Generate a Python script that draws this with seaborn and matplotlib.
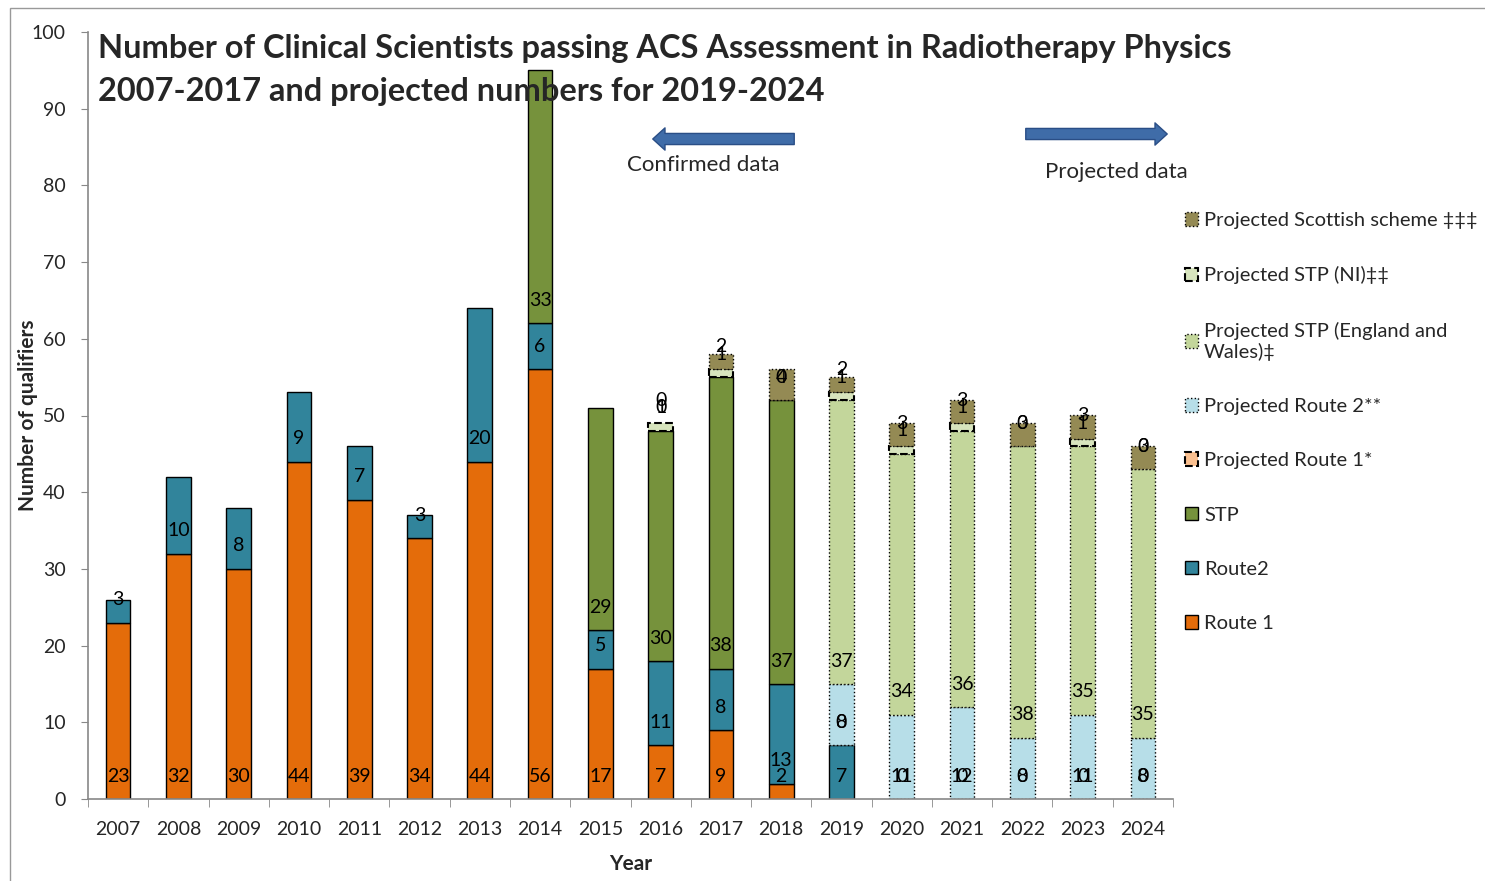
import numpy as np
import matplotlib
matplotlib.use("Agg")
import matplotlib.pyplot as plt
import matplotlib.patches as mpatches
import seaborn as sns

# data (None = no value for that year)
years = [str(y) for y in range(2007, 2025)]
route1 = [23, 32, 30, 44, 39, 34, 44, 56, 17, 7, 9, 2, None, None, None, None, None, None]
route2 = [3, 10, 8, 9, 7, 3, 20, 6, 5, 11, 8, 13, 7, None, None, None, None, None]
stp = [None, None, None, None, None, None, None, 33, 29, 30, 38, 37, None, None, None, None, None, None]
proj_route1 = [None] * 12 + [0, 0, 0, 0, 0, 0]
proj_route2 = [None] * 12 + [8, 11, 12, 8, 11, 8]
proj_stp_ew = [None] * 9 + [0, None, None, 37, 34, 36, 38, 35, 35]
proj_stp_ni = [None] * 9 + [1, 1, 0, 1, 1, 1, 0, 1, 0]
proj_scot = [None] * 9 + [0, 2, 4, 2, 3, 3, 3, 3, 3]

series = [
    ("Route 1", route1, dict(facecolor="#E46C0A", edgecolor="black", linestyle="-", linewidth=1.0)),
    ("Route2", route2, dict(facecolor="#31849B", edgecolor="black", linestyle="-", linewidth=1.0)),
    ("STP", stp, dict(facecolor="#76923C", edgecolor="black", linestyle="-", linewidth=1.0)),
    ("Projected Route 1*", proj_route1, dict(facecolor="#FAC090", edgecolor="black", linestyle="--", linewidth=1.5)),
    ("Projected Route 2**", proj_route2, dict(facecolor="#B7DEE8", edgecolor="black", linestyle=":", linewidth=1.0)),
    ("Projected STP (England and\nWales)\u2021", proj_stp_ew, dict(facecolor="#C3D69B", edgecolor="black", linestyle=":", linewidth=1.0)),
    ("Projected STP (NI)\u2021\u2021", proj_stp_ni, dict(facecolor="#D7E4BD", edgecolor="black", linestyle="--", linewidth=1.5)),
    ("Projected Scottish scheme \u2021\u2021\u2021", proj_scot, dict(facecolor="#948A54", edgecolor="black", linestyle=":", linewidth=1.0)),
]

sns.set_style("white")
plt.rcParams['font.family'] = ['Lato', 'DejaVu Sans']

fig = plt.figure(figsize=(14.85, 8.81), dpi=100)
ax = fig.add_axes([88 / 1485, 1 - 799 / 881, (1173 - 88) / 1485, (799 - 32) / 881])

bottom = np.zeros(len(years))
handles = []
for name, vals, style in series:
    arr = np.array([np.nan if v is None else v for v in vals], dtype=float)
    h = np.nan_to_num(arr)
    n_before = len(ax.patches)
    sns.barplot(x=years, y=h, order=years, width=0.41, errorbar=None, ax=ax,
                color=style["facecolor"], saturation=1, bottom=bottom.copy(), **style)
    for p in ax.patches[n_before:]:
        if p.get_height() == 0:
            p.set_visible(False)
    # value labels at the inside base of each segment
    for i, v in enumerate(arr):
        if not np.isnan(v):
            ax.annotate(f"{int(v)}", (i, bottom[i]), xytext=(0, 16.5), textcoords="offset points",
                        ha="center", va="center", fontsize=14, color="black")
    bottom = bottom + h
    handles.append(mpatches.Patch(label=name, **style))

ax.set_xlim(-0.5, len(years) - 0.5)
ax.set_ylim(0, 100)
ax.set_yticks(range(0, 101, 10))
ax.set_xticks(range(len(years)))
ax.set_xticklabels(years)
ax.set_xticks(np.arange(-0.5, len(years), 1), minor=True)
ax.tick_params(axis="x", which="major", length=0, labelsize=14, pad=16)
ax.tick_params(axis="x", which="minor", length=6, color="#888888", direction="out", bottom=True)
ax.tick_params(axis="y", length=5, color="#888888", direction="out", left=True, labelsize=14, pad=11)

for s in ["top", "right"]:
    ax.spines[s].set_visible(False)
for s in ["left", "bottom"]:
    ax.spines[s].set_color("#888888")
    ax.spines[s].set_linewidth(1.2)

ax.set_xlabel("Year", fontsize=15, fontweight="bold", labelpad=11)
ax.set_ylabel("Number of qualifiers", fontsize=15, fontweight="bold")
ax.yaxis.set_label_coords((38 - 88) / 1085, 0.5)

fig.text(98 / 1485, 1 - 34 / 881,
         "Number of Clinical Scientists passing ACS Assessment in Radiotherapy Physics\n"
         "2007-2017 and projected numbers for 2019-2024",
         fontsize=23.4, fontweight="bold", va="top", ha="left", linespacing=1.6)

# arrows and captions
for start, end in [((797, 139), (650, 139)), ((1023, 134), (1170, 134))]:
    arr_patch = mpatches.FancyArrowPatch(
        (start[0] / 1485, 1 - start[1] / 881), (end[0] / 1485, 1 - end[1] / 881),
        transform=fig.transFigure, arrowstyle="simple,head_length=0.55,head_width=1.0,tail_width=0.5",
        mutation_scale=16, facecolor="#3F6CA8", edgecolor="#2A4E86", linewidth=1)
    fig.patches.append(arr_patch)
fig.text(703 / 1485, 1 - 165 / 881, "Confirmed data", fontsize=16, ha="center", va="center")
fig.text(1116 / 1485, 1 - 172 / 881, "Projected data", fontsize=16, ha="center", va="center")

fig.legend(handles=handles[::-1], loc="upper left", bbox_to_anchor=(1177 / 1485, 1 - 204 / 881),
           frameon=False, fontsize=14.5, handlelength=0.65, handleheight=0.65, handletextpad=0.3,
           labelspacing=1.85, borderaxespad=0)

# outer chart-area border
fig.patches.append(mpatches.Rectangle((10 / 1485, -0.05), 1.2, 1.05 - 8 / 881, transform=fig.transFigure,
                                      fill=False, edgecolor="#999999", linewidth=1))

fig.savefig("out.png", dpi=100)
